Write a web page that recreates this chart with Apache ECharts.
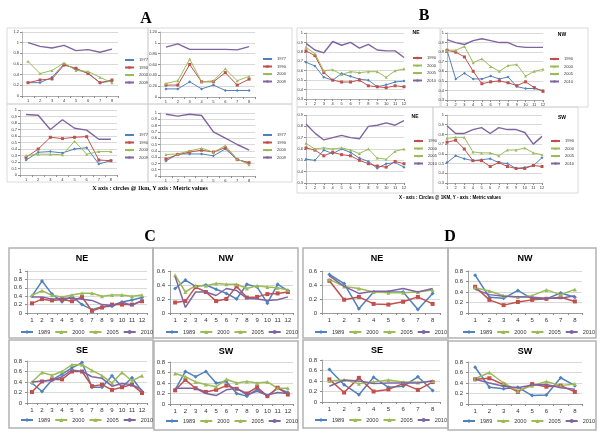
<!DOCTYPE html>
<html><head><meta charset="utf-8">
<script src="https://cdn.jsdelivr.net/npm/echarts@6/dist/echarts.min.js"></script>
<style>html,body{margin:0;padding:0;background:#fff}#c{width:600px;height:435px}</style>
</head><body><div id="c"></div>
<script>
// ---------- data ----------
const cats8 = ['1','2','3','4','5','6','7','8'];
const cats12 = ['1','2','3','4','5','6','7','8','9','10','11','12'];
const namesA = ['1977','1990','2000','2009'];
const namesB = ['1990','2000','2005','2010'];
const namesCD = ['1989','2000','2005','2010'];

// Panel A (order: blue, red, green, purple)
const A1 = [[0.25,0.25,0.35,0.60,0.50,0.43,0.25,0.28],[0.25,0.30,0.32,0.58,0.52,0.42,0.25,0.30],[0.65,0.42,0.48,0.62,0.48,0.46,0.35,0.25],[1.00,0.93,0.90,0.95,0.85,0.87,0.82,0.88]];
const A2 = [[0.15,0.15,0.28,0.15,0.22,0.12,0.12,0.12],[0.22,0.22,0.60,0.28,0.28,0.45,0.22,0.33],[0.25,0.30,0.70,0.28,0.30,0.52,0.30,0.38],[0.92,0.98,0.88,0.88,0.88,0.88,0.87,0.93]];
const A3 = [[0.23,0.35,0.36,0.34,0.40,0.42,0.17,0.22],[0.27,0.40,0.58,0.56,0.58,0.59,0.23,0.22],[0.30,0.32,0.32,0.31,0.52,0.32,0.36,0.36],[0.93,0.92,0.70,0.85,0.72,0.69,0.55,0.55]];
const A4 = [[0.24,0.35,0.35,0.35,0.32,0.43,0.26,0.21],[0.27,0.34,0.38,0.41,0.38,0.45,0.26,0.21],[0.34,0.35,0.40,0.44,0.38,0.48,0.27,0.18],[0.98,0.95,0.98,0.96,0.70,0.60,0.50,0.41]];
// Panel B
const B_NE = [[0.69,0.65,0.53,0.50,0.57,0.54,0.51,0.50,0.43,0.45,0.48,0.49],[0.81,0.76,0.58,0.50,0.48,0.48,0.50,0.44,0.43,0.42,0.44,0.43],[0.85,0.78,0.60,0.61,0.56,0.59,0.58,0.59,0.59,0.53,0.60,0.62],[0.89,0.82,0.79,0.91,0.87,0.90,0.84,0.88,0.82,0.81,0.81,0.74]];
const B_NW = [[0.82,0.52,0.58,0.52,0.52,0.55,0.52,0.54,0.44,0.42,0.42,0.40],[0.82,0.80,0.75,0.60,0.47,0.49,0.50,0.48,0.45,0.49,0.43,0.39],[0.82,0.82,0.86,0.69,0.73,0.65,0.60,0.66,0.67,0.55,0.60,0.62],[0.93,0.90,0.88,0.92,0.94,0.92,0.90,0.90,0.86,0.85,0.85,0.85]];
const B_NE2 = [[0.51,0.50,0.59,0.56,0.60,0.57,0.52,0.49,0.43,0.47,0.48,0.44],[0.61,0.59,0.54,0.57,0.55,0.54,0.50,0.47,0.45,0.44,0.49,0.47],[0.65,0.60,0.61,0.60,0.61,0.59,0.56,0.60,0.52,0.51,0.58,0.60],[0.82,0.74,0.68,0.70,0.72,0.70,0.69,0.80,0.81,0.83,0.81,0.85]];
const B_SW = [[0.51,0.58,0.55,0.53,0.54,0.55,0.51,0.50,0.45,0.46,0.48,0.56],[0.72,0.74,0.65,0.53,0.53,0.47,0.51,0.47,0.45,0.45,0.48,0.47],[0.76,0.77,0.77,0.62,0.61,0.61,0.58,0.64,0.64,0.66,0.61,0.59],[0.89,0.81,0.81,0.85,0.87,0.81,0.87,0.85,0.85,0.82,0.70,0.78]];
// Panel C
const C_NE = [[0.40,0.76,0.45,0.27,0.40,0.20,0.08,0.15,0.16,0.26,0.31,0.37],[0.23,0.33,0.30,0.32,0.28,0.38,0.05,0.13,0.20,0.20,0.20,0.28],[0.42,0.53,0.42,0.38,0.43,0.47,0.47,0.40,0.43,0.43,0.40,0.43],[0.38,0.38,0.33,0.35,0.35,0.33,0.30,0.20,0.18,0.26,0.18,0.30]];
const C_NW = [[0.35,0.47,0.38,0.40,0.34,0.28,0.20,0.41,0.37,0.14,0.41,0.32],[0.15,0.17,0.37,0.30,0.17,0.20,0.38,0.22,0.23,0.27,0.28,0.30],[0.54,0.30,0.39,0.39,0.42,0.41,0.41,0.35,0.39,0.37,0.36,0.33],[0.52,0.08,0.30,0.30,0.25,0.35,0.32,0.21,0.20,0.18,0.19,0.23]];
const C_SE = [[0.38,0.22,0.44,0.55,0.67,0.77,0.30,0.30,0.52,0.30,0.48,0.22],[0.21,0.41,0.45,0.45,0.60,0.60,0.32,0.35,0.25,0.30,0.35,0.19],[0.40,0.58,0.53,0.60,0.73,0.73,0.62,0.52,0.38,0.58,0.42,0.52],[0.40,0.42,0.43,0.50,0.63,0.60,0.50,0.47,0.32,0.37,0.35,0.25]];
const C_SW = [[0.27,0.62,0.52,0.62,0.40,0.43,0.20,0.15,0.28,0.15,0.30,0.22],[0.26,0.46,0.30,0.23,0.27,0.35,0.29,0.20,0.32,0.15,0.31,0.18],[0.58,0.52,0.42,0.37,0.33,0.47,0.40,0.43,0.40,0.42,0.30,0.30],[0.30,0.30,0.30,0.20,0.16,0.27,0.30,0.18,0.24,0.17,0.22,0.20]];
// Panel D
const D_NE = [[0.55,0.42,0.06,0.30,0.30,0.30,0.05,0.28],[0.46,0.19,0.23,0.13,0.12,0.16,0.23,0.13],[0.48,0.38,0.35,0.30,0.29,0.29,0.30,0.33],[0.53,0.38,0.28,0.31,0.31,0.35,0.30,0.35]];
const D_NW = [[0.72,0.30,0.28,0.43,0.27,0.27,0.38,0.30],[0.50,0.25,0.15,0.21,0.25,0.27,0.30,0.22],[0.48,0.42,0.33,0.30,0.33,0.44,0.35,0.45],[0.45,0.35,0.32,0.31,0.30,0.28,0.28,0.33]];
const D_SE = [[0.62,0.33,0.14,0.47,0.28,0.30,0.48,0.22],[0.43,0.18,0.46,0.20,0.24,0.35,0.23,0.38],[0.40,0.42,0.35,0.38,0.42,0.38,0.37,0.40],[0.30,0.42,0.40,0.35,0.36,0.36,0.36,0.40]];
const D_SW = [[0.70,0.32,0.29,0.32,0.16,0.17,0.50,0.35],[0.47,0.49,0.37,0.23,0.38,0.33,0.35,0.23],[0.48,0.60,0.40,0.25,0.35,0.43,0.35,0.38],[0.47,0.40,0.34,0.31,0.36,0.37,0.31,0.28]];

// ---------- drawing ----------
const COLORS = ['#4F81BD','#C0504D','#9BBB59','#8064A2'];
const SYMBOLS = ['diamond','rect','triangle','none'];
const FONT = '"Liberation Sans", Arial, sans-serif';
const fmt1 = v => String(+(+v).toFixed(1));
const fmt2 = v => (Math.abs(v) < 1e-9 ? '0' : (Math.abs(v-1) < 1e-9 ? '1' : (+v).toFixed(2)));

const panels = [
  {d:A1, n:namesA, c:cats8, g:[22,32,96,64], y:[0,1.2,0.2], f:fmt1, bg:true, s:1, box:[7,28,141,76], leg:[124,58,'vertical']},
  {d:A2, n:namesA, c:cats8, g:[160,32,95,65], y:[0,1.2,0.2], f:fmt2, bg:true, s:1, box:[148,28,144,76], leg:[262,57,'vertical']},
  {d:A3, n:namesA, c:cats8, g:[20,110,97,65], y:[0,1,0.1], f:fmt1, bg:true, s:1, box:[7,104,141,78], leg:[124,133,'vertical']},
  {d:A4, n:namesA, c:cats8, g:[160,113,95,63], y:[0,1,0.1], f:fmt1, bg:true, s:1, box:[148,104,144,78], leg:[262,133,'vertical']},
  {d:B_NE, n:namesB, c:cats12, g:[306,33,98,66], y:[0.3,1,0.1], f:fmt1, bg:false, s:1, box:[297,28,143,79], leg:[412,56,'vertical'], lab:['NE',416,33]},
  {d:B_NW, n:namesB, c:cats12, g:[447,33,96,67], y:[0.3,1,0.1], f:fmt1, bg:false, s:1, box:[441,28,147,79], leg:[549,57,'vertical'], lab:['NW',562,35]},
  {d:B_NE2, n:namesB, c:cats12, g:[306,115,98,68], y:[0.3,0.9,0.1], f:fmt1, bg:false, s:1, box:[297,107,136,86], leg:[413,139,'vertical'], lab:['NE',415,117]},
  {d:B_SW, n:namesB, c:cats12, g:[447,115,95,68], y:[0.3,1,0.1], f:fmt1, bg:false, s:1, box:[433,107,145,86], leg:[550,139,'vertical'], lab:['SW',562,118]},
  {d:C_NE, n:namesCD, c:cats12, g:[27,271,120,42], y:[0,1,0.2], f:fmt1, bg:true, s:2, box:[9,248,144,90], leg:[20,329,'horizontal'], t:['NE',82,259]},
  {d:C_NW, n:namesCD, c:cats12, g:[170,271,123,42], y:[0,0.6,0.2], f:fmt1, bg:true, s:2, box:[153,248,145,90], leg:[165,329,'horizontal'], t:['NW',226,259]},
  {d:C_SE, n:namesCD, c:cats12, g:[27,361,120,42], y:[0,0.8,0.2], f:fmt1, bg:true, s:2, box:[9,340,144,88], leg:[20,417,'horizontal'], t:['SE',82,351]},
  {d:C_SW, n:namesCD, c:cats12, g:[170,362,123,42], y:[0,0.8,0.2], f:fmt1, bg:true, s:2, box:[154,341,144,89], leg:[165,418,'horizontal'], t:['SW',226,352]},
  {d:D_NE, n:namesCD, c:cats8, g:[322,271,118,42], y:[0,0.6,0.2], f:fmt1, bg:true, s:2, box:[303,248,145,90], leg:[314,329,'horizontal'], t:['NE',377,259]},
  {d:D_NW, n:namesCD, c:cats8, g:[468,271,114,42], y:[0,0.8,0.2], f:fmt1, bg:true, s:2, box:[448,248,148,90], leg:[462,329,'horizontal'], t:['NW',525,259]},
  {d:D_SE, n:namesCD, c:cats8, g:[322,360,118,42], y:[0,0.8,0.2], f:fmt1, bg:true, s:2, box:[303,340,145,88], leg:[314,417,'horizontal'], t:['SE',377,351]},
  {d:D_SW, n:namesCD, c:cats8, g:[468,362,114,42], y:[0,0.8,0.2], f:fmt1, bg:true, s:2, box:[448,341,148,89], leg:[462,418,'horizontal'], t:['SW',525,352]}
];

const option = {animation:false, backgroundColor:'#fff', grid:[], xAxis:[], yAxis:[], series:[], legend:[], graphic:[]};

panels.forEach((p, i) => {
  const big = p.s === 2;
  const fs = big ? 6 : 4;
  option.grid.push({left:p.g[0], top:p.g[1], width:p.g[2], height:p.g[3]});
  option.xAxis.push({type:'category', gridIndex:i, data:p.c, boundaryGap:p.bg,
    axisLine:{lineStyle:{color:'#8c8c8c', width:big?0.8:0.6}},
    axisTick:{show:true, length:2, lineStyle:{color:'#8c8c8c'}},
    axisLabel:{fontSize:fs, color:'#333', margin:big?4:3, interval:0, fontFamily:FONT}});
  option.yAxis.push({type:'value', gridIndex:i, min:p.y[0], max:p.y[1], interval:p.y[2],
    axisLine:{show:true, lineStyle:{color:'#8c8c8c', width:big?0.8:0.6}},
    axisTick:{show:true, length:2, lineStyle:{color:'#8c8c8c'}},
    splitLine:{lineStyle:{color:'#c8c8c8', width:0.7}},
    axisLabel:{fontSize:fs, color:'#333', margin:big?5:3, formatter:p.f, fontFamily:FONT}});
  p.d.forEach((vals, k) => {
    option.series.push({type:'line', name:p.n[k], xAxisIndex:i, yAxisIndex:i, data:vals,
      symbol:SYMBOLS[k], symbolSize:big?4:3, showSymbol:true,
      lineStyle:{color:COLORS[k], width:big?1.5:(k===3?1.4:1)},
      itemStyle:{color:COLORS[k]}, z:k===3?3:2});
  });
  if (p.leg[2] === 'vertical') {
    option.legend.push({data:p.n, orient:'vertical', left:p.leg[0], top:p.leg[1], padding:0,
      itemWidth:9, itemHeight:3, itemGap:3.5, selectedMode:false,
      textStyle:{fontSize:4, color:'#333', fontFamily:FONT}});
  } else {
    option.legend.push({data:p.n, orient:'horizontal', left:p.leg[0], top:p.leg[1], padding:0,
      width:200, itemWidth:12, itemHeight:5, itemGap:4, selectedMode:false,
      textStyle:{fontSize:5.5, color:'#333', fontFamily:FONT}});
  }
  option.graphic.push({type:'rect', silent:true, z:-1,
    shape:{x:p.box[0], y:p.box[1], width:p.box[2], height:p.box[3]},
    style:{fill:null, stroke:big?'#b3b3b3':'#d0d0d0', lineWidth:big?1.5:0.8}});
  if (p.t) option.graphic.push({type:'text', x:p.t[1], y:p.t[2], silent:true,
    style:{text:p.t[0], fill:'#000', font:'bold 9px ' + FONT, textAlign:'center', textVerticalAlign:'middle'}});
  if (p.lab) option.graphic.push({type:'text', x:p.lab[1], y:p.lab[2], silent:true,
    style:{text:p.lab[0], fill:'#000', font:'bold 5px ' + FONT, textAlign:'center', textVerticalAlign:'middle'}});
});

[['A',146,19],['B',424,16],['C',150,237],['D',450,237]].forEach(t => {
  option.graphic.push({type:'text', x:t[1], y:t[2], silent:true,
    style:{text:t[0], fill:'#000', font:'bold 16px "Liberation Serif", "DejaVu Serif", serif', textAlign:'center', textVerticalAlign:'middle'}});
});
option.graphic.push({type:'text', x:150, y:188, silent:true,
  style:{text:'X axis : circles @ 1km, Y axis : Metric values', fill:'#000', font:'bold 6px "Liberation Serif", serif', textAlign:'center', textVerticalAlign:'middle'}});
option.graphic.push({type:'text', x:450, y:198, silent:true,
  style:{text:'X - axis : Circles @ 1KM, Y - axis : Metric values', fill:'#000', font:'bold 4.5px ' + FONT, textAlign:'center', textVerticalAlign:'middle'}});

const chart = echarts.init(document.getElementById('c'));
chart.setOption(option);
</script>
</body></html>
